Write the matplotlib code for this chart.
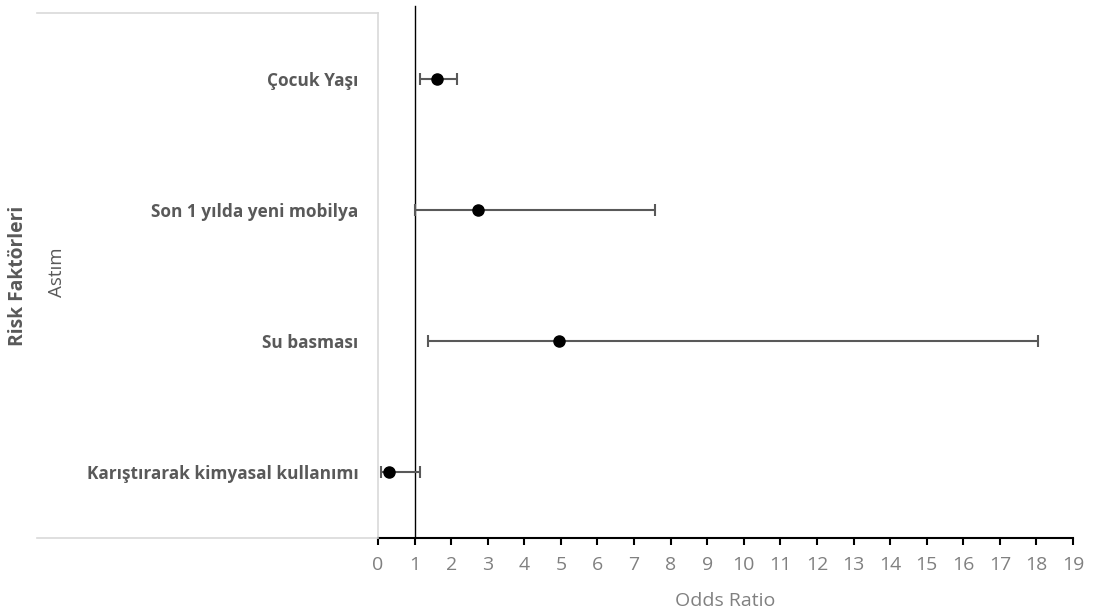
import matplotlib
matplotlib.use("Agg")
from matplotlib import pyplot as plt
from matplotlib.lines import Line2D

# Data
factors = ["Çocuk Yaşı", "Son 1 yılda yeni mobilya", "Su basması", "Karıştırarak kimyasal kullanımı"]
odds = [1.61, 2.73, 4.95, 0.30]
ci_low = [1.15, 1.00, 1.37, 0.08]
ci_high = [2.16, 7.57, 18.04, 1.15]
xticks = list(range(0, 20))

plt.rcParams['font.family'] = ['Open Sans', 'DejaVu Sans']

W, H = 1093, 611
fig = plt.figure(figsize=(W / 100, H / 100), dpi=100)
ax = fig.add_axes([378 / W, (H - 538) / H, (1073 - 378) / W, (538 - 13) / H])

ypos = [4, 3, 2, 1]
err_lo = [o - l for o, l in zip(odds, ci_low)]
err_hi = [h - o for o, h in zip(odds, ci_high)]
ax.errorbar(odds, ypos, xerr=[err_lo, err_hi], fmt='o', color='black',
            ecolor='#595959', elinewidth=1.5, capsize=4, capthick=1.5,
            markersize=8, zorder=3)

ax.set_xlim(0, 19)
ax.set_ylim(0.5, 4.5)
ax.set_xticks(xticks)
ax.set_xticklabels([str(t) for t in xticks], color='#808080', fontsize=14)
ax.tick_params(axis='x', direction='out', length=5, width=1.5, color='black', pad=8)

ax.set_yticks(ypos)
ax.set_yticklabels(factors, fontweight='bold', color='#595959', fontsize=12.4)
ax.tick_params(axis='y', length=0, pad=14)

for s in ['top', 'right']:
    ax.spines[s].set_visible(False)
ax.spines['left'].set_color('#d9d9d9')
ax.spines['left'].set_linewidth(1.2)
ax.spines['bottom'].set_color('black')
ax.spines['bottom'].set_linewidth(1.5)

# reference line at OR = 1
ax.axvline(1, ymin=0, ymax=(538 - 6) / (538 - 13), color='black', linewidth=1.0,
           clip_on=False, zorder=2)

# table-like frame on the left
fig.add_artist(Line2D([37 / W, 378 / W], [(H - 13) / H, (H - 13) / H],
                      color='#d9d9d9', linewidth=1.2))
fig.add_artist(Line2D([37 / W, 378 / W], [(H - 538) / H, (H - 538) / H],
                      color='#d9d9d9', linewidth=1.2))

fig.text(18 / W, 1 - 276 / H, "Risk Faktörleri", rotation=90, ha='center', va='center',
         fontsize=13.9, fontweight='bold', color='#595959')
fig.text(57 / W, 1 - 272 / H, "Astım", rotation=90, ha='center', va='center',
         fontsize=13.5, color='#595959')
fig.text(725 / W, 1 - 601 / H, "Odds Ratio", ha='center', va='center',
         fontsize=14, color='#808080')

fig.savefig("out.png", dpi=100)
